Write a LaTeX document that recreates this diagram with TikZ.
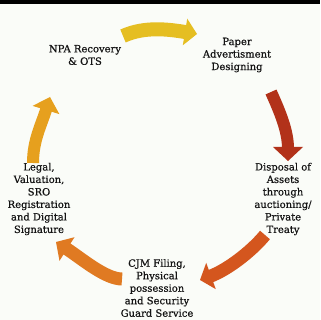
\documentclass[tikz,border=0pt]{standalone}
\usepackage{fontspec}
\setmainfont{DejaVu Serif}
\newfontfamily\cycfont[FakeBold=0.6]{DejaVu Serif}
\usetikzlibrary{calc}
\definecolor{bgc}{RGB}{250,252,248}
\definecolor{cyel}{RGB}{229,190,34}
\definecolor{cred}{RGB}{178,50,26}
\definecolor{cgold}{RGB}{230,160,30}
\definecolor{cver}{RGB}{212,86,30}
\definecolor{corg}{RGB}{224,122,34}
\definecolor{txt}{RGB}{20,20,20}
% color, tail, control, base, tip, shaft width, head half width
\newcommand{\cyclearrow}[7]{%
  \draw[line width=#6,#1] (#2) .. controls (#3) and ($(#4)!-16pt!(#5)$) .. ($(#4)!1.5pt!(#5)$);
  \fill[#1] ($(#4)!#7!90:(#5)$) -- (#5) -- ($(#4)!#7!-90:(#5)$) -- cycle;
}
\begin{document}
\begin{tikzpicture}[x=1pt,y=-1pt,
  cyctext/.style={align=center,font=\cycfont\fontsize{10}{12.5}\selectfont,text=txt,inner sep=0pt}]
\useasboundingbox (0,0) rectangle (320,320);
\fill[bgc] (0,0) rectangle (320,320);
\fill[black] (0,0) rectangle (320,4);

% arrow coordinates
\coordinate (yT) at (123,36);  \coordinate (yC) at (145,26);
\coordinate (yB) at (185,32);  \coordinate (yP) at (197,34);
\coordinate (rT) at (271,92);  \coordinate (rC) at (280,112);
\coordinate (rB) at (288,147); \coordinate (rP) at (288,161);
\coordinate (vT) at (265,235); \coordinate (vC) at (250,253);
\coordinate (vB) at (211,276); \coordinate (vP) at (200,280);
\coordinate (oT) at (122,279); \coordinate (oC) at (105,279);
\coordinate (oB) at (67,249);  \coordinate (oP) at (56,242);
\coordinate (gT) at (33,163);  \coordinate (gC) at (33,140);
\coordinate (gB) at (46,110);  \coordinate (gP) at (50,97);

\cyclearrow{cyel}{yT}{yC}{yB}{yP}{14pt}{13.5pt}
\cyclearrow{cred}{rT}{rC}{rB}{rP}{12pt}{15pt}
\cyclearrow{cver}{vT}{vC}{vB}{vP}{13pt}{14pt}
\cyclearrow{corg}{oT}{oC}{oB}{oP}{13pt}{14pt}
\cyclearrow{cgold}{gT}{gC}{gB}{gP}{12pt}{14pt}

\node[cyctext] (npa) at (85,55) {NPA Recovery\\\& OTS};
\node[cyctext] (paper) at (237,55) {Paper\\Advertisment\\Designing};
\node[cyctext] (disp) at (283,199) {Disposal of\\Assets\\through\\auctioning/\\Private\\Treaty};
\node[cyctext] (cjm) at (157,288) {CJM Filing,\\Physical\\possession\\and Security\\Guard Service};
\node[cyctext] (legal) at (39,199) {Legal,\\Valuation,\\SRO\\Registration\\and Digital\\Signature};
\end{tikzpicture}
\end{document}
